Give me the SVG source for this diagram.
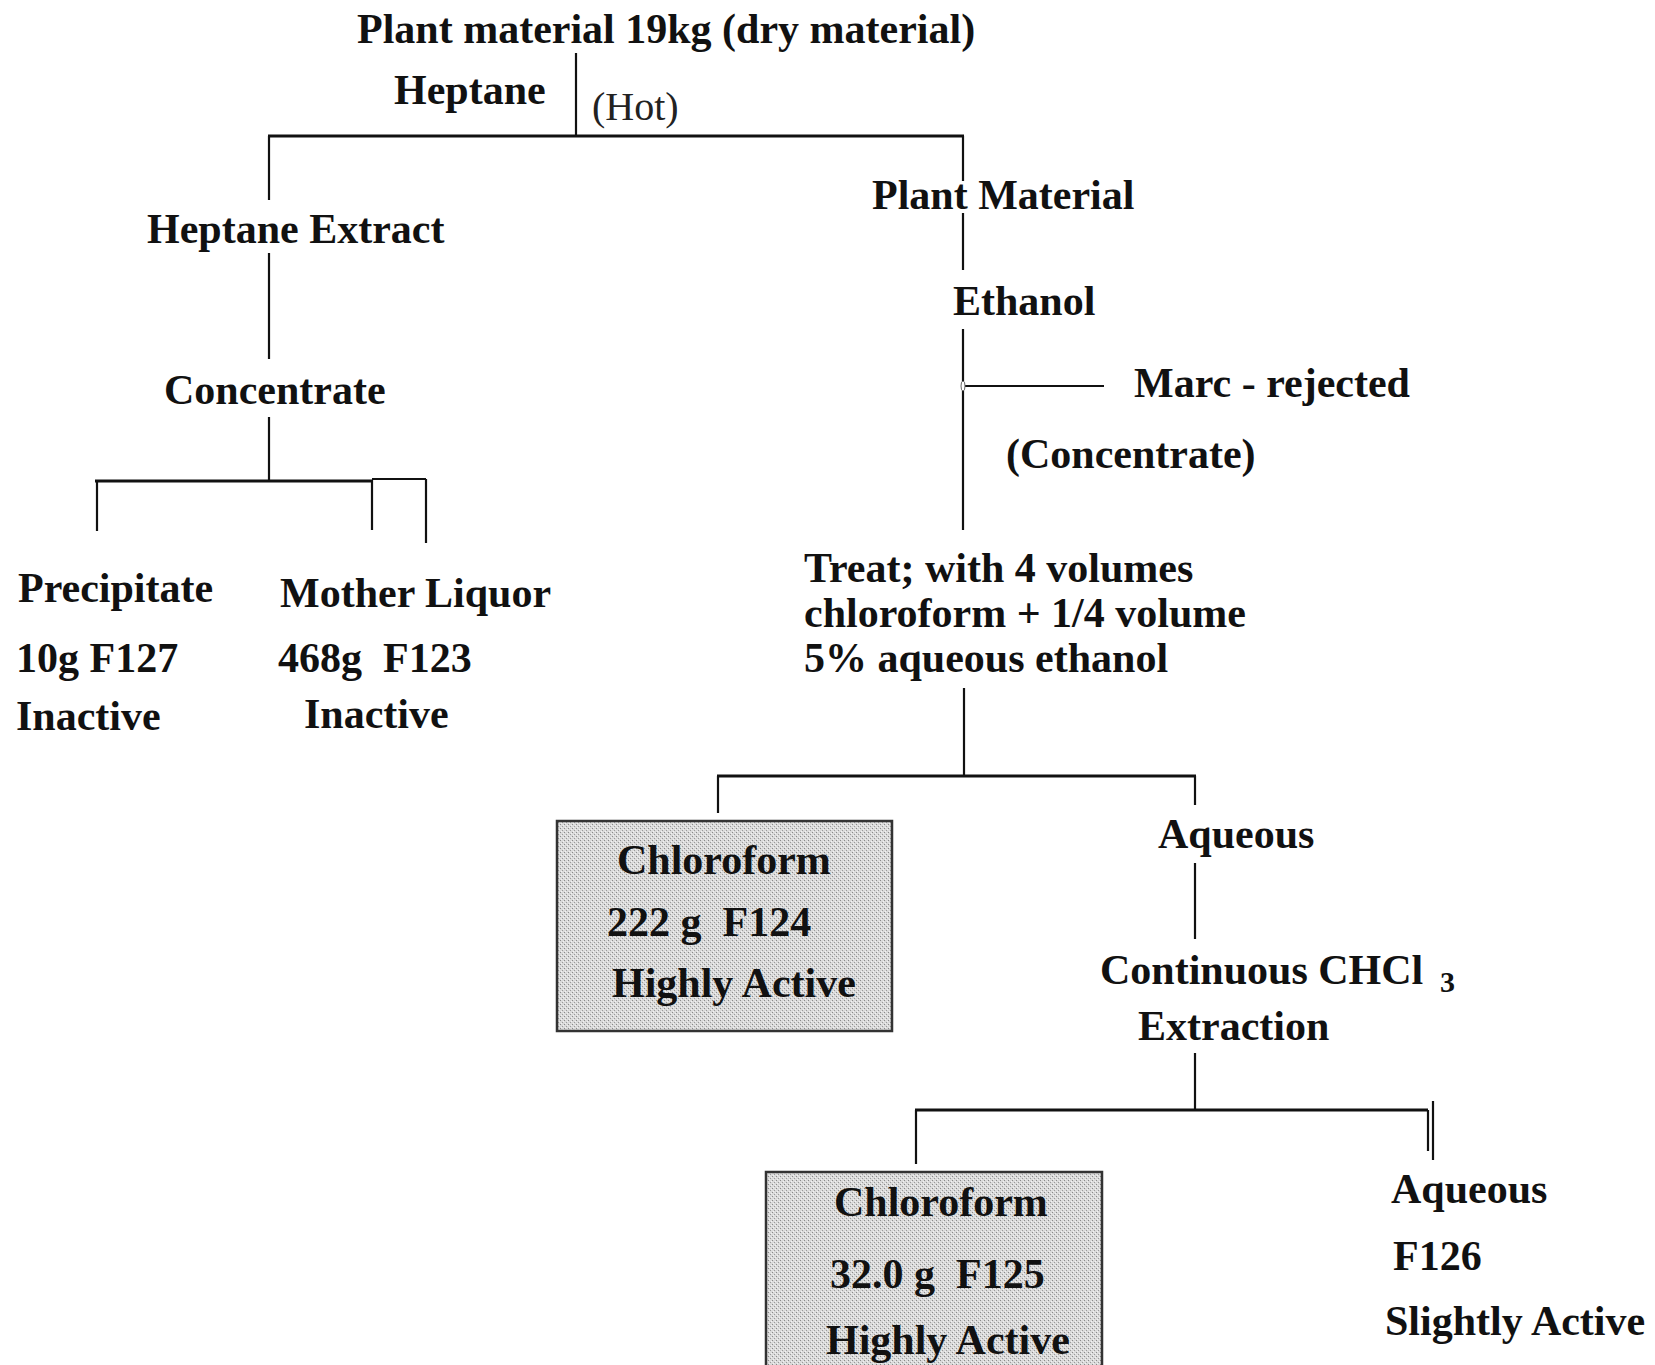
<svg xmlns="http://www.w3.org/2000/svg" width="1655" height="1365" viewBox="0 0 1655 1365">
  <style>
    text { font-family: "Liberation Serif", "Times New Roman", serif; font-weight: bold; font-size: 42px; fill: #111; }
    .reg { font-weight: normal; font-size: 40px; fill: #222; }
    .pre { white-space: pre; }
    .ln { stroke: #111; stroke-width: 2.2; fill: none; }
    .hl { stroke: #111; stroke-width: 3; fill: none; }
    .box { fill: url(#stipple); stroke: #333; stroke-width: 2.5; }
  </style>
  <defs>
    <!-- halftone-like grey used for the active chloroform fractions -->
    <pattern id="stipple" width="4" height="4" patternUnits="userSpaceOnUse">
      <rect width="4" height="4" fill="#dadada"/>
      <rect x="0" y="0" width="1" height="1" fill="#8a8a8a"/>
      <rect x="2" y="2" width="1" height="1" fill="#9a9a9a"/>
      <rect x="1" y="3" width="1" height="1" fill="#f2f2f2"/>
      <rect x="3" y="1" width="1" height="1" fill="#f2f2f2"/>
    </pattern>
  </defs>
  <rect width="1655" height="1365" fill="#fff"/>

  <!-- connectors -->
  <g id="connectors">
    <line class="ln" x1="576" y1="53" x2="576" y2="136"/>
    <line class="hl" x1="268" y1="136" x2="964" y2="136"/>
    <!-- heptane branch -->
    <line class="ln" x1="269" y1="136" x2="269" y2="200"/>
    <line class="ln" x1="269" y1="253" x2="269" y2="359"/>
    <line class="ln" x1="269" y1="417" x2="269" y2="481"/>
    <line class="hl" x1="95" y1="481" x2="372" y2="481"/>
    <line class="ln" x1="372" y1="479" x2="426" y2="479"/>
    <line class="ln" x1="97" y1="480" x2="97" y2="531"/>
    <line class="ln" x1="372" y1="480" x2="372" y2="530"/>
    <line class="ln" x1="426" y1="479" x2="426" y2="543"/>
    <!-- ethanol branch -->
    <line class="ln" x1="963" y1="136" x2="963" y2="181"/>
    <line class="ln" x1="963" y1="213" x2="963" y2="270"/>
    <line class="ln" x1="963" y1="329" x2="963" y2="530"/>
    <line class="ln" x1="963" y1="386" x2="1104" y2="386"/>
    <ellipse cx="963" cy="386" rx="2" ry="5" fill="#fff" stroke="#666" stroke-width="1"/>
    <!-- partition -->
    <line class="ln" x1="964" y1="688" x2="964" y2="776"/>
    <line class="hl" x1="717" y1="776" x2="1196" y2="776"/>
    <line class="ln" x1="718" y1="776" x2="718" y2="813"/>
    <line class="ln" x1="1195" y1="776" x2="1195" y2="805"/>
    <line class="ln" x1="1195" y1="863" x2="1195" y2="939"/>
    <!-- continuous extraction -->
    <line class="ln" x1="1195" y1="1053" x2="1195" y2="1110"/>
    <line class="hl" x1="915" y1="1110" x2="1428" y2="1110"/>
    <line class="ln" x1="916" y1="1110" x2="916" y2="1164"/>
    <line class="ln" x1="1428" y1="1110" x2="1428" y2="1151"/>
    <line class="ln" x1="1433" y1="1101" x2="1433" y2="1160"/>
  </g>

  <g id="n-start">
    <text x="357" y="43">Plant material 19kg (dry material)</text>
  </g>
  <g id="n-heptane">
    <text x="394" y="104">Heptane</text>
    <text class="reg" x="592" y="120">(Hot)</text>
  </g>
  <g id="n-heptane-extract">
    <text x="147" y="243">Heptane Extract</text>
  </g>
  <g id="n-concentrate-left">
    <text x="164" y="404">Concentrate</text>
  </g>
  <g id="n-precipitate">
    <text x="18" y="602">Precipitate</text>
    <text x="16" y="672">10g F127</text>
    <text x="16" y="730">Inactive</text>
  </g>
  <g id="n-mother-liquor">
    <text x="280" y="607">Mother Liquor</text>
    <text class="pre" x="278" y="672">468g  F123</text>
    <text x="304" y="728">Inactive</text>
  </g>
  <g id="n-plant-material">
    <text x="872" y="209">Plant Material</text>
  </g>
  <g id="n-ethanol">
    <text x="953" y="315">Ethanol</text>
  </g>
  <g id="n-marc">
    <text x="1134" y="397">Marc - rejected</text>
  </g>
  <g id="n-concentrate-right">
    <text x="1006" y="468">(Concentrate)</text>
  </g>
  <g id="n-treat">
    <text x="804" y="582">Treat; with 4 volumes</text>
    <text x="804" y="627">chloroform + 1/4 volume</text>
    <text x="804" y="672">5% aqueous ethanol</text>
  </g>
  <g id="n-f124">
    <rect class="box" x="557" y="821" width="335" height="210"/>
    <text x="617" y="874">Chloroform</text>
    <text class="pre" x="607" y="936">222 g  F124</text>
    <text x="612" y="997">Highly Active</text>
  </g>
  <g id="n-aqueous">
    <text x="1158" y="848">Aqueous</text>
  </g>
  <g id="n-continuous">
    <text x="1100" y="984">Continuous CHCl<tspan x="1440" dy="8" font-size="30">3</tspan></text>
    <text x="1138" y="1040">Extraction</text>
  </g>
  <g id="n-f125">
    <rect class="box" x="766" y="1172" width="336" height="200"/>
    <text x="834" y="1216">Chloroform</text>
    <text class="pre" x="830" y="1288">32.0 g  F125</text>
    <text x="826" y="1354">Highly Active</text>
  </g>
  <g id="n-f126">
    <text x="1391" y="1203">Aqueous</text>
    <text x="1393" y="1270">F126</text>
    <text x="1385" y="1335">Slightly Active</text>
  </g>
</svg>
